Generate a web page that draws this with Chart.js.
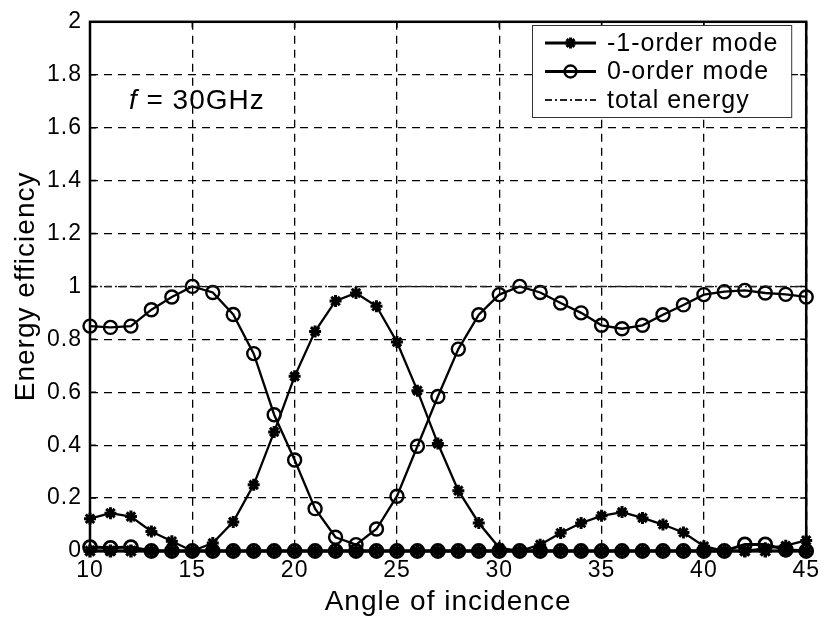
<!DOCTYPE html>
<html><head><meta charset="utf-8">
<script src="https://cdn.jsdelivr.net/npm/chart.js@4/dist/chart.umd.min.js"></script>
<style>html,body{margin:0;padding:0;background:#fff;} canvas{display:block;}</style>
</head><body>
<canvas id="c" width="825" height="622"></canvas>
<script>
const angles = [10,11,12,13,14,15,16,17,18,19,20,21,22,23,24,25,26,27,28,29,30,31,32,33,34,35,36,37,38,39,40,41,42,43,44,45];
const minusOneOrder = [0.122,0.143,0.13,0.074,0.037,0.0,0.03,0.11,0.25,0.45,0.66,0.83,0.945,0.975,0.925,0.79,0.606,0.406,0.228,0.106,0.012,0.0,0.024,0.068,0.106,0.133,0.147,0.125,0.1,0.07,0.018,0.0,0.0,0.01,0.02,0.04];
const zeroOrder = [0.85,0.845,0.85,0.912,0.96,1.0,0.977,0.894,0.746,0.515,0.344,0.16,0.052,0.024,0.083,0.207,0.396,0.584,0.763,0.893,0.969,1.0,0.977,0.937,0.9,0.853,0.84,0.853,0.893,0.93,0.969,0.98,0.985,0.975,0.97,0.96];
const totalEnergy = [1,1,1,1,1,1,1,1,1,1,1,1,1,1,1,1,1,1,1,1,1,1,1,1,1,1,1,1,1,1,1,1,1,1,1,1];
// other (higher-order) modes lying on the axis
const otherStarMode = [0,0,0,0,0,0,0,0,0,0,0,0,0,0,0,0,0,0,0,0,0,0,0,0,0,0,0,0,0,0,0,0,0,0,0,0];
const otherCircleMode = [0.015,0.012,0.015,0,0,0,0,0,0,0,0,0,0,0,0,0,0,0,0,0,0,0,0,0,0,0,0,0,0,0,0,0,0.025,0.025,0.005,0];
const xTicks = [10,15,20,25,30,35,40,45];
const seriesLabels = ['-1-order mode','0-order mode','total energy'];
const xTitle = 'Angle of incidence';
const yTitle = 'Energy efficiency';
const annotation = {italic:'f', rest:' = 30GHz', x:11.9, y:1.67};

const FONT = '"Liberation Sans", Arial, sans-serif';
const pts = arr => angles.map((a,i)=>({x:a,y:arr[i]}));

const starStyle = {pointStyle:'star', pointRadius:6, pointBorderWidth:3, pointBackgroundColor:'#000', pointBorderColor:'#000'};
const circStyle = {pointStyle:'circle', pointRadius:6.5, pointBorderWidth:2.4, pointBackgroundColor:'rgba(0,0,0,0)', pointBorderColor:'#000'};

const datasets = [
  Object.assign({label:'otherStar', data:pts(otherStarMode), borderColor:'#000', borderWidth:3, clip:false, inLegend:false}, starStyle, {pointRadius:6.5, pointBorderWidth:3.4}),
  Object.assign({label:'otherCircle', data:pts(otherCircleMode), borderColor:'#000', borderWidth:3, clip:false, inLegend:false}, circStyle, {pointBorderWidth:2.8}),
  {label:seriesLabels[2], data:pts(totalEnergy), borderColor:'#222', borderWidth:1.5, borderDash:[7,3,2,3], pointRadius:0, clip:false, inLegend:true, legendIndex:2},
  Object.assign({label:seriesLabels[0], data:pts(minusOneOrder), borderColor:'#000', borderWidth:2.3, clip:false, inLegend:true, legendIndex:0}, starStyle),
  Object.assign({label:seriesLabels[1], data:pts(zeroOrder), borderColor:'#000', borderWidth:2.3, clip:false, inLegend:true, legendIndex:1}, circStyle),
];

const spacingPlugin = {
  id:'spacing',
  beforeDraw(chart){ chart.ctx.letterSpacing = '1px'; }
};

const framePlugin = {
  id:'frame',
  afterDraw(chart){
    const {ctx, chartArea:a, scales} = chart;
    ctx.save();
    ctx.strokeStyle = '#000';
    // inward ticks
    ctx.lineWidth = 1.5;
    const tl = 6;
    scales.y.ticks.forEach(t=>{
      const y = scales.y.getPixelForValue(t.value);
      ctx.beginPath(); ctx.moveTo(a.left,y); ctx.lineTo(a.left+tl,y); ctx.moveTo(a.right,y); ctx.lineTo(a.right-tl,y); ctx.stroke();
    });
    scales.x.ticks.forEach(t=>{
      const x = scales.x.getPixelForValue(t.value);
      ctx.beginPath(); ctx.moveTo(x,a.top); ctx.lineTo(x,a.top+tl); ctx.moveTo(x,a.bottom); ctx.lineTo(x,a.bottom-tl); ctx.stroke();
    });
    ctx.lineWidth = 2.5;
    ctx.strokeRect(a.left, a.top, a.right-a.left, a.bottom-a.top);

    // annotation
    const ax = scales.x.getPixelForValue(annotation.x);
    const ay = scales.y.getPixelForValue(annotation.y);
    ctx.fillStyle = '#000';
    ctx.textBaseline = 'alphabetic';
    ctx.textAlign = 'left';
    ctx.font = 'italic 28px ' + FONT;
    ctx.fillText(annotation.italic, ax, ay);
    const w = ctx.measureText(annotation.italic).width;
    ctx.font = '28px ' + FONT;
    ctx.fillText(annotation.rest, ax + w, ay);

    // legend
    const bx = 532, by = 25, bw = a.right - 15 - 532, bh = 92;
    ctx.fillStyle = '#fff';
    ctx.fillRect(bx, by, bw, bh);
    ctx.lineWidth = 1;
    ctx.strokeStyle = '#333';
    ctx.strokeRect(bx+0.5, by+0.5, bw, bh);
    const rows = chart.data.datasets.filter(d=>d.inLegend).sort((p,q)=>p.legendIndex-q.legendIndex);
    rows.forEach((d,i)=>{
      const cy = by + 18 + i*28.5;
      const x0 = 545, x1 = 596;
      ctx.save();
      ctx.strokeStyle = d.borderColor;
      ctx.lineWidth = d.borderWidth + 0.5;
      ctx.setLineDash(d.borderDash || []);
      ctx.beginPath(); ctx.moveTo(x0,cy); ctx.lineTo(x1,cy); ctx.stroke();
      ctx.restore();
      if (d.pointRadius) {
        ctx.save();
        ctx.strokeStyle = d.pointBorderColor; ctx.fillStyle = d.pointBackgroundColor;
        ctx.lineWidth = d.pointBorderWidth;
        Chart.helpers.drawPoint(ctx, {pointStyle:d.pointStyle, radius:d.pointRadius - 0.5, borderWidth:d.pointBorderWidth, rotation:0}, (x0+x1)/2, cy);
        ctx.restore();
      }
      ctx.fillStyle = '#000';
      ctx.font = '25px ' + FONT;
      ctx.textBaseline = 'middle';
      ctx.fillText(d.label, 607, cy + 1);
    });
    ctx.restore();
  }
};

new Chart(document.getElementById('c'), {
  type:'line',
  data:{datasets},
  plugins:[spacingPlugin, framePlugin],
  options:{
    responsive:false, animation:false, devicePixelRatio:1,
    layout:{padding:{top:17, right:17, left:0, bottom:0}},
    plugins:{legend:{display:false}, tooltip:{enabled:false}},
    elements:{line:{tension:0}},
    scales:{
      x:{
        type:'linear', min:10, max:45,
        afterBuildTicks(s){ s.ticks = xTicks.map(v=>({value:v})); },
        afterFit(s){ s.height = 71; },
        ticks:{font:{family:FONT, size:23}, color:'#000', padding:6, maxRotation:0, callback:v=>String(v)},
        grid:{color:'#000', lineWidth:1.3, drawTicks:false},
        border:{display:false, dash:[8,6]},
        title:{display:true, text:xTitle, font:{family:FONT, size:28}, color:'#000', padding:{top:0,bottom:3}}
      },
      y:{
        type:'linear', min:0, max:2,
        ticks:{stepSize:0.2, font:{family:FONT, size:23}, color:'#000', padding:8, callback:v=>String(Number(v.toFixed(1)))},
        afterFit(s){ s.width = 90; },
        grid:{color:'#000', lineWidth:1.3, drawTicks:false},
        border:{display:false, dash:[8,6]},
        title:{display:true, text:yTitle, font:{family:FONT, size:28}, color:'#000', padding:{top:9,bottom:0}}
      }
    }
  }
});
</script>
</body></html>
